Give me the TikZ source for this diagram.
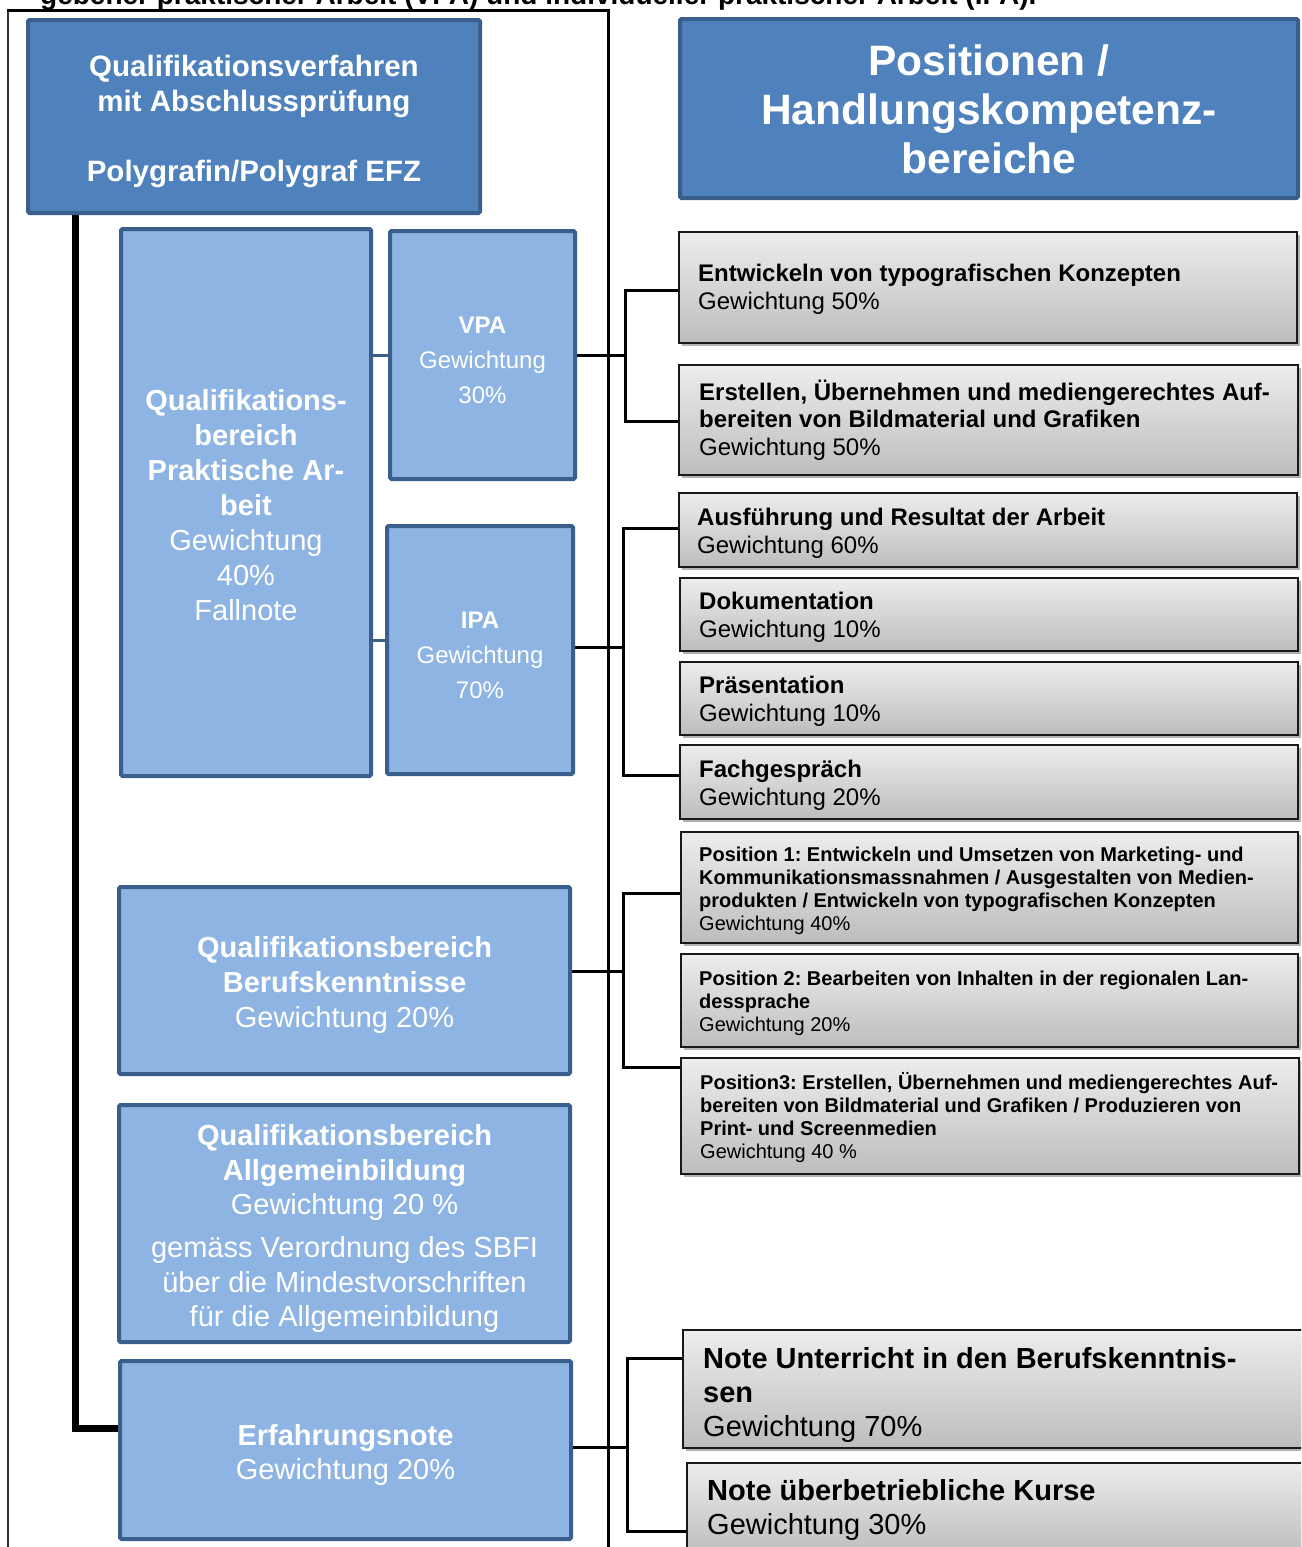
\documentclass[tikz,border=0pt]{standalone}
\usepackage{fontspec}
\setmainfont{Liberation Sans}
\usetikzlibrary{shadows,backgrounds}
\definecolor{bluedark}{HTML}{4F81BD}
\definecolor{blueedge}{HTML}{3A5F8C}
\definecolor{bluelight}{HTML}{8EB4E3}
\definecolor{graytop}{HTML}{EDEDED}
\definecolor{graybot}{HTML}{BDBDBD}
\frenchspacing
\begin{document}
\begin{tikzpicture}[x=1pt,y=-1pt,
  darkbox/.style={draw=blueedge, line width=4pt, fill=bluedark, rounded corners=1.5pt, inner sep=0pt},
  lightbox/.style={draw=blueedge, line width=4pt, fill=bluelight, rounded corners=1.5pt, inner sep=0pt},
  bluetext/.style={inner sep=0pt, text=white, align=center},
  graybox/.style={draw=black!90, line width=2pt, top color=graytop, bottom color=graybot,
     drop shadow={shadow xshift=2.5pt, shadow yshift=-3pt, fill=black, opacity=0.3}, inner sep=0pt},
  boxtext/.style={anchor=west, align=left, inner sep=0pt, text=black},
  fbig/.style={font=\fontsize{29}{35}\selectfont},
  fmid/.style={font=\fontsize{24}{27.6}\selectfont},
  fsmall/.style={font=\fontsize{20}{23}\selectfont},
  conn/.style={line width=3pt, black},
  bconn/.style={line width=3pt, blueedge},
  trunkline/.style={line width=7pt, black},
  frameline/.style={line width=3pt, black}
]
\useasboundingbox (0,0) rectangle (1301,1547);
\begin{scope}
\clip (0,0) rectangle (1301,1547);

% cut-off heading line
\node[font=\fontsize{28}{32}\selectfont\bfseries, anchor=base west, inner sep=0pt] (cut) at (40,5)
  {gebener praktischer Arbeit (VPA) und individueller praktischer Arbeit (IPA).};

% outer frame
\draw[frameline, line width=2pt, black!80] (8,1560) -- (8,10);
\draw[frameline] (7,10) -- (608,10) -- (608,1560);

% blue boxes
\node[darkbox, minimum width=452pt, minimum height=193pt] (qv) at (254,116.5) {};
\node[bluetext, font=\fontsize{29.5}{35}\selectfont\bfseries] (qvt) at ([shift={(0,5)}]qv.center)
  {Qualifikationsverfahren\\mit Abschlussprüfung\\[35pt]Polygrafin/Polygraf EFZ};
\node[darkbox, minimum width=618pt, minimum height=179pt] (title) at (989,108.5) {};
\node[bluetext, font=\fontsize{42.5}{49}\selectfont\bfseries] (titlet) at ([shift={(0,1)}]title.center)
  {Positionen /\\Handlungskompetenz-\\bereiche};

\node[lightbox, minimum width=250pt, minimum height=547pt] (prak) at (246,502.5) {};
\node[bluetext, fbig] (prakt) at ([shift={(0,3)}]prak.center)
  {\textbf{Qualifikations-}\\\textbf{bereich}\\\textbf{Praktische Ar-}\\\textbf{beit}\\Gewichtung\\40\%\\Fallnote};
\node[lightbox, minimum width=185pt, minimum height=248pt] (vpa) at (482.5,355) {};
\node[bluetext, font=\fontsize{24}{35}\selectfont] (vpat) at ([shift={(0,5)}]vpa.center)
  {\textbf{VPA}\\Gewichtung\\30\%};
\node[lightbox, minimum width=186pt, minimum height=248pt] (ipa) at (480,650) {};
\node[bluetext, font=\fontsize{24}{35}\selectfont] (ipat) at ([shift={(0,5)}]ipa.center)
  {\textbf{IPA}\\Gewichtung\\70\%};
\node[lightbox, minimum width=451pt, minimum height=187pt] (bk) at (344.5,980.5) {};
\node[bluetext, fbig] (bkt) at ([shift={(0,4)}]bk.center)
  {\textbf{Qualifikationsbereich}\\\textbf{Berufskenntnisse}\\Gewichtung 20\%};
\node[lightbox, minimum width=451pt, minimum height=237pt] (ab) at (344.5,1223.5) {};
\node[bluetext, font=\fontsize{29}{34.5}\selectfont] (abt) at ([shift={(0,5)}]ab.center)
  {\textbf{Qualifikationsbereich}\\\textbf{Allgemeinbildung}\\Gewichtung 20 \%\\[8.5pt]gemäss Verordnung des SBFI\\über die Mindestvorschriften\\für die Allgemeinbildung};
\node[lightbox, minimum width=451pt, minimum height=178pt] (erf) at (345.5,1450) {};
\node[bluetext, font=\fontsize{29}{34}\selectfont] (erft) at ([shift={(0,5)}]erf.center)
  {\textbf{Erfahrungsnote}\\Gewichtung 20\%};

% gray boxes
\node[graybox, minimum width=618pt, minimum height=111pt] (r1) at (988,287.5) {};
\node[graybox, minimum width=619pt, minimum height=110pt] (r2) at (988.5,420) {};
\node[graybox, minimum width=618pt, minimum height=74pt] (r3) at (988,530) {};
\node[graybox, minimum width=618pt, minimum height=73pt] (r4) at (989,614.5) {};
\node[graybox, minimum width=618pt, minimum height=73pt] (r5) at (989,698.5) {};
\node[graybox, minimum width=618pt, minimum height=74pt] (r6) at (989,782) {};
\node[graybox, minimum width=617pt, minimum height=111pt] (r7) at (989.5,887.5) {};
\node[graybox, minimum width=617pt, minimum height=93pt] (r8) at (989.5,1000.5) {};
\node[graybox, minimum width=618pt, minimum height=116pt] (r9) at (990,1116) {};
\node[graybox, minimum width=620pt, minimum height=118pt] (r10) at (993,1389) {};
\node[graybox, minimum width=616pt, minimum height=92pt] (r11) at (995,1509) {};

\node[boxtext, fmid] (t1) at ([shift={(20,2)}]r1.west)
  {\textbf{Entwickeln von typografischen Konzepten}\\Gewichtung 50\%};
\node[boxtext, fmid] (t2) at ([shift={(21,0)}]r2.west)
  {\textbf{Erstellen, Übernehmen und mediengerechtes Auf-}\\\textbf{bereiten von Bildmaterial und Grafiken}\\Gewichtung 50\%};
\node[boxtext, fmid] (t3) at ([shift={(19,3)}]r3.west)
  {\textbf{Ausführung und Resultat der Arbeit}\\Gewichtung 60\%};
\node[boxtext, fmid] (t4) at ([shift={(20,3)}]r4.west)
  {\textbf{Dokumentation}\\Gewichtung 10\%};
\node[boxtext, fmid] (t5) at ([shift={(20,3)}]r5.west)
  {\textbf{Präsentation}\\Gewichtung 10\%};
\node[boxtext, fmid] (t6) at ([shift={(20,3)}]r6.west)
  {\textbf{Fachgespräch}\\Gewichtung 20\%};
\node[boxtext, fsmall] (t7) at ([shift={(19,3)}]r7.west)
  {\textbf{Position 1: Entwickeln und Umsetzen von Marketing- und}\\\textbf{Kommunikationsmassnahmen / Ausgestalten von Medien-}\\\textbf{produkten / Entwickeln von typografischen Konzepten}\\Gewichtung 40\%};
\node[boxtext, fsmall] (t8) at ([shift={(19,3)}]r8.west)
  {\textbf{Position 2: Bearbeiten von Inhalten in der regionalen Lan-}\\\textbf{dessprache}\\Gewichtung 20\%};
\node[boxtext, fsmall] (t9) at ([shift={(20,2)}]r9.west)
  {\textbf{Position3: Erstellen, Übernehmen und mediengerechtes Auf-}\\\textbf{bereiten von Bildmaterial und Grafiken / Produzieren von}\\\textbf{Print- und Screenmedien}\\Gewichtung 40 \%};
\node[boxtext, font=\fontsize{29}{34}\selectfont] (t10) at ([shift={(21,6)}]r10.west)
  {\textbf{Note Unterricht in den Berufskenntnis-}\\\textbf{sen}\\Gewichtung 70\%};
\node[boxtext, font=\fontsize{29}{34}\selectfont] (t11) at ([shift={(21,1)}]r11.west)
  {\textbf{Note überbetriebliche Kurse}\\Gewichtung 30\%};

% connectors
\begin{scope}[on background layer]
\coordinate (trunk) at (75,0);
\coordinate (erfL) at ([shift={(0,-22)}]erf.west);
\draw[trunkline] (qv.south -| trunk) |- (erfL);

\coordinate (ipaL) at ([shift={(0,-10)}]ipa.west);
\draw[bconn] (prak.east |- vpa.west) -- (vpa.west);
\draw[bconn] (prak.east |- ipaL) -- (ipaL);

\coordinate (jv) at (625,0);
\coordinate (a1) at ([shift={(0,59)}]r1.north west);
\coordinate (a2) at ([shift={(0,57)}]r2.north west);
\draw[conn] (vpa.east) -- (vpa.east -| jv);
\draw[conn] (a1) -| (jv |- a2) -- (a2);

\coordinate (ji) at (623,0);
\coordinate (ipaR) at ([shift={(0,-3)}]ipa.east);
\coordinate (a3) at ([shift={(0,36)}]r3.north west);
\coordinate (a6) at ([shift={(0,31)}]r6.north west);
\draw[conn] (ipaR) -- (ipaR -| ji);
\draw[conn] (a3) -| (ji |- a6) -- (a6);

\coordinate (jb) at (623,0);
\coordinate (bkR) at ([shift={(0,-9.5)}]bk.east);
\coordinate (a7) at ([shift={(0,62)}]r7.north west);
\coordinate (a9) at ([shift={(0,10)}]r9.north west);
\draw[conn] (bkR) -- (bkR -| jb);
\draw[conn] (a7) -| (jb |- a9) -- (a9);

\coordinate (je) at (627,0);
\coordinate (erfR) at ([shift={(-4,-3)}]erf.east);
\coordinate (a10) at ([shift={(0,29)}]r10.north west);
\coordinate (a11) at ([shift={(0,69)}]r11.north west);
\draw[conn] (erfR) -- (erfR -| je);
\draw[conn] (a10) -| (je |- a11) -- (a11);
\end{scope}
\end{scope}
\end{tikzpicture}
\end{document}
